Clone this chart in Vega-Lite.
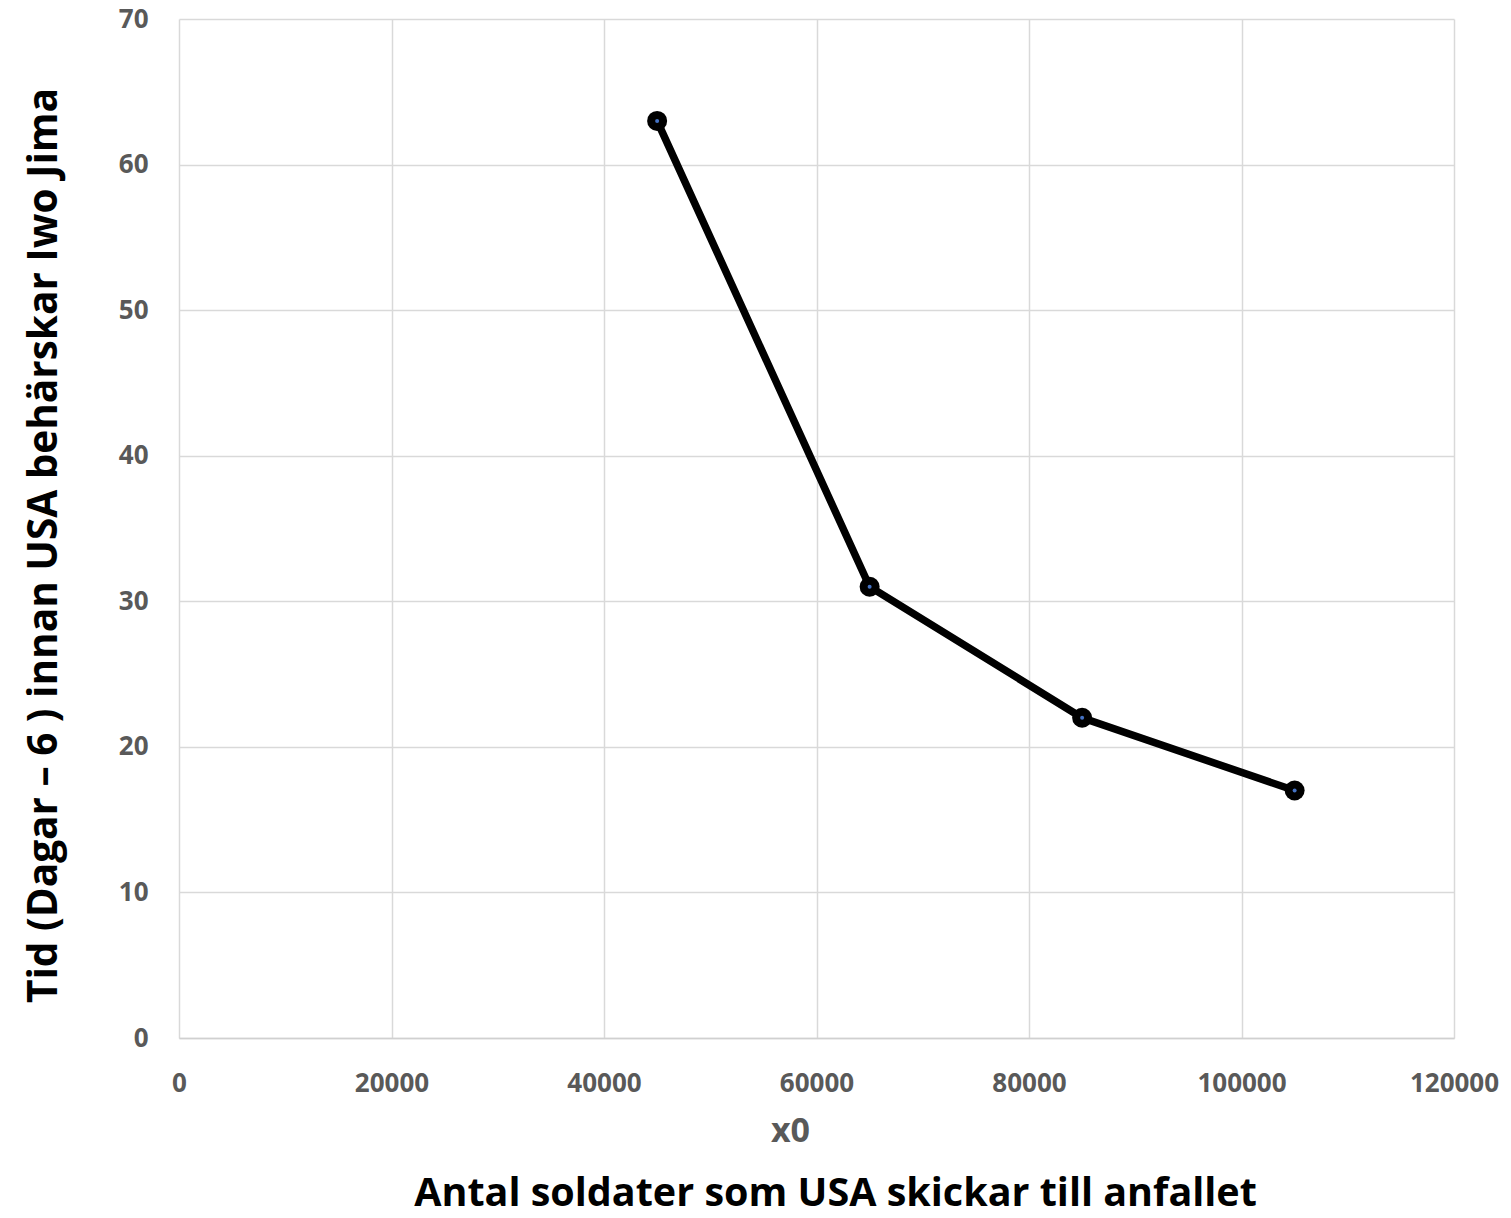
{
  "$schema": "https://vega.github.io/schema/vega-lite/v6.json",
  "autosize": {"type": "none"},
  "width": 1275,
  "height": 1019,
  "padding": {"left": 179, "top": 19, "right": 57, "bottom": 180},
  "background": "white",
  "config": {
    "view": {"stroke": null},
    "font": "Open Sans",
    "axis": {
      "labelFont": "Open Sans",
      "labelFontWeight": "bold",
      "labelFontSize": 26,
      "labelColor": "#595959",
      "labelFlush": false,
      "labelOverlap": false,
      "gridColor": "#d9d9d9",
      "gridWidth": 1.5,
      "ticks": false,
      "domain": false
    }
  },
  "title": {
    "text": "Antal soldater som USA skickar till anfallet",
    "orient": "bottom",
    "anchor": "middle",
    "font": "Open Sans",
    "fontSize": 39.5,
    "fontWeight": "bold",
    "color": "#000000",
    "offset": 27,
    "dx": 19
  },
  "data": {
    "values": [
      {"soldater": 45000, "dagar": 63},
      {"soldater": 65000, "dagar": 31},
      {"soldater": 85000, "dagar": 22},
      {"soldater": 105000, "dagar": 17}
    ]
  },
  "encoding": {
    "x": {
      "field": "soldater",
      "type": "quantitative",
      "scale": {"domain": [0, 120000], "nice": false},
      "axis": {
        "values": [0, 20000, 40000, 60000, 80000, 100000, 120000],
        "format": "d",
        "labelPadding": 32,
        "title": "x0",
        "titleFont": "Open Sans",
        "titleFontSize": 34,
        "titleFontWeight": "bold",
        "titleColor": "#595959",
        "titlePadding": 18,
        "titleX": 611,
        "domain": true,
        "domainColor": "#d0d0d0",
        "domainWidth": 1.5
      }
    },
    "y": {
      "field": "dagar",
      "type": "quantitative",
      "scale": {"domain": [0, 70], "nice": false},
      "axis": {
        "values": [0, 10, 20, 30, 40, 50, 60, 70],
        "labelPadding": 31,
        "title": "Tid (Dagar – 6 ) innan USA behärskar Iwo Jima",
        "titleFont": "Open Sans",
        "titleFontSize": 40.5,
        "titleFontWeight": "bold",
        "titleColor": "#000000",
        "titlePadding": 53,
        "titleY": 526
      }
    }
  },
  "layer": [
    {"mark": {"type": "line", "color": "#000000", "strokeWidth": 7.5}},
    {"mark": {"type": "point", "filled": true, "color": "#000000", "size": 400, "opacity": 1}},
    {"mark": {"type": "point", "filled": true, "color": "#4472c4", "size": 16, "opacity": 1}}
  ]
}
